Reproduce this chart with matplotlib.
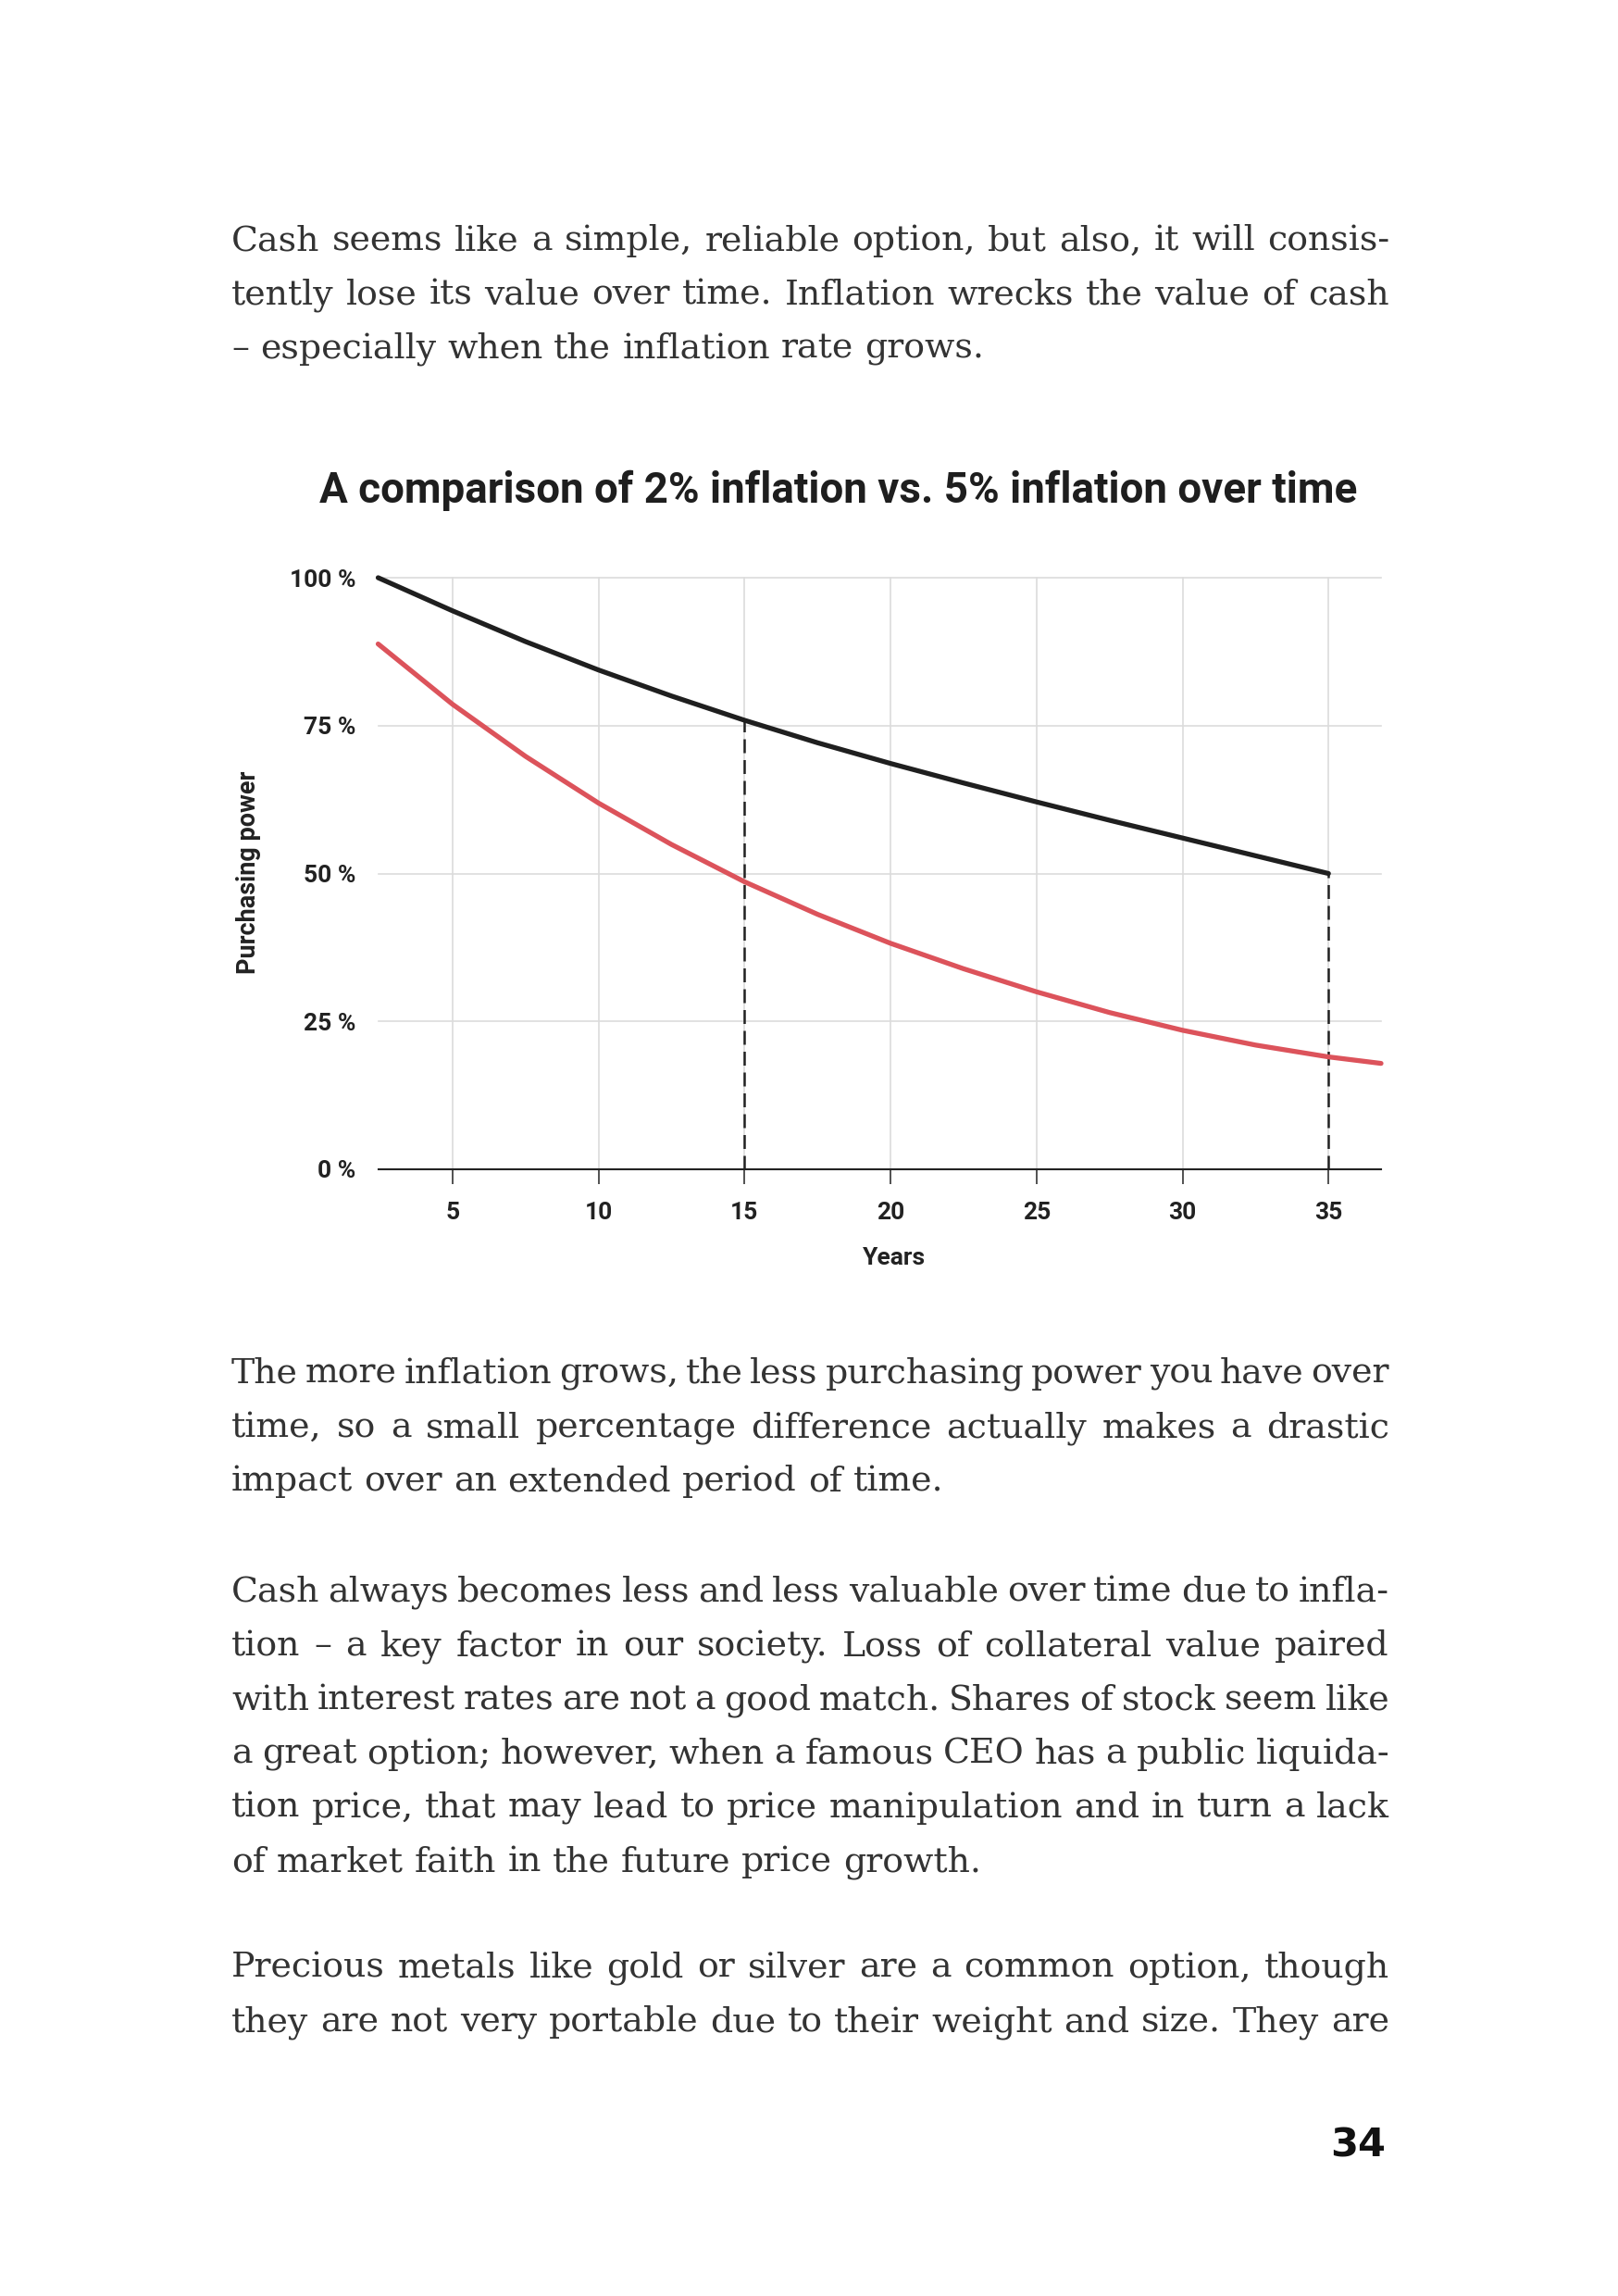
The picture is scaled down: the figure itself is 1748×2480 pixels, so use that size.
import matplotlib
matplotlib.use("Agg")
import matplotlib.pyplot as plt

# ---------------- data ----------------
years_2pct = [2.45, 5, 7.5, 10, 12.5, 15, 17.5, 20, 22.5, 25, 27.5, 30, 32.5, 35]
power_2pct = [100.0, 94.4, 89.2, 84.4, 80.0, 75.9, 72.1, 68.6, 65.3, 62.1, 59.0, 56.0, 53.0, 50.0]
years_5pct = [2.45, 5, 7.5, 10, 12.5, 15, 17.5, 20, 22.5, 25, 27.5, 30, 32.5, 35, 36.8]
power_5pct = [88.8, 78.6, 69.8, 61.9, 54.9, 48.6, 43.1, 38.2, 33.9, 30.0, 26.5, 23.5, 21.0, 19.0, 17.9]
marker_years = [15, 35]
marker_values = [75.9, 50.0]
x_ticks = [5, 10, 15, 20, 25, 30, 35]
y_ticks = [0, 25, 50, 75, 100]
y_tick_labels = ["0 %", "25 %", "50 %", "75 %", "100 %"]

title = "A comparison of 2% inflation vs. 5% inflation over time"
x_label = "Years"
y_label = "Purchasing power"
page_number = "34"

para1 = ["Cash seems like a simple, reliable option, but also, it will consis-",
         "tently lose its value over time. Inflation wrecks the value of cash",
         "– especially when the inflation rate grows."]
para2 = ["The more inflation grows, the less purchasing power you have over",
         "time, so a small percentage difference actually makes a drastic",
         "impact over an extended period of time."]
para3 = ["Cash always becomes less and less valuable over time due to infla-",
         "tion – a key factor in our society. Loss of collateral value paired",
         "with interest rates are not a good match. Shares of stock seem like",
         "a great option; however, when a famous CEO has a public liquida-",
         "tion price, that may lead to price manipulation and in turn a lack",
         "of market faith in the future price growth."]
para4 = ["Precious metals like gold or silver are a common option, though",
         "they are not very portable due to their weight and size. They are"]

# ---------------- layout ----------------
W, H = 1748, 2480
fig = plt.figure(figsize=(W / 100, H / 100), dpi=100)
fig.patch.set_facecolor("white")
r = fig.canvas.get_renderer()

def fx(x):
    return x / W

def fy(y):
    return 1 - y / H

BODY = "#333333"
DARK = "#1e1e1e"
SANS = ["Roboto", "DejaVu Sans"]
SERIF = ["DejaVu Serif"]

def width_of(s, size, **kw):
    t = fig.text(0, 0, s, fontsize=size, **kw)
    w = t.get_window_extent(r).width
    t.remove()
    return w

# body text, justified
L, R = 250, 1501
base = 28.0
space_w = width_of("a a", base, family=SERIF) - width_of("aa", base, family=SERIF)
fits = []
for para in (para1, para2, para3, para4):
    for line in (para[:-1] if para is not para4 else para):
        words = line.split(" ")
        sw = sum(width_of(w, base, family=SERIF) for w in words)
        fits.append(base * (R - L) / (sw + (len(words) - 1) * 0.62 * space_w))
body_size = min(29.5, min(fits))

def paragraph(lines, y0, justify_last=False, step=58.2):
    sp = width_of("a a", body_size, family=SERIF) - width_of("aa", body_size, family=SERIF)
    for i, line in enumerate(lines):
        y = y0 + i * step
        words = line.split(" ")
        texts = [fig.text(0, 0, w, fontsize=body_size, family=SERIF, color=BODY,
                          ha="left", va="baseline") for w in words]
        widths = [t.get_window_extent(r).width for t in texts]
        last = (i == len(lines) - 1) and not justify_last
        gap = sp if last else (R - L - sum(widths)) / (len(words) - 1)
        x = L
        for t, w in zip(texts, widths):
            t.set_position((fx(x), fy(y)))
            x += w + gap

paragraph(para1, 270.5)
paragraph(para2, 1494)
paragraph(para3, 1730)
paragraph(para4, 2136, justify_last=True)

# title (fit to measured width)
tw = width_of(title, 30, family=SANS, weight="bold")
fig.text(fx(345), fy(543), title, fontsize=30 * 1121 / tw, family=SANS,
         weight="bold", color=DARK, ha="left", va="baseline")

# page number
pw = width_of(page_number, 30, family=["DejaVu Sans"], weight="bold")
fig.text(fx(1497), fy(2329), page_number, fontsize=30 * 60 / pw,
         family=["DejaVu Sans"], weight="bold", color="#111111",
         ha="right", va="baseline")

# ---------------- chart ----------------
ax_l, ax_r, ax_t, ax_b = 408.5, 1492, 624, 1263
ax = fig.add_axes([fx(ax_l), fy(ax_b), (ax_r - ax_l) / W, (ax_b - ax_t) / H])
ax.set_facecolor("white")
ax.set_xlim(2.45, 36.8)
ax.set_ylim(0, 100)
for s in ("left", "right", "top"):
    ax.spines[s].set_visible(False)
ax.spines["bottom"].set_color("#222222")
ax.spines["bottom"].set_linewidth(1.5)
ax.spines["bottom"].set_zorder(5)

ax.set_xticks(x_ticks)
ax.set_xticklabels([str(v) for v in x_ticks])
ax.set_yticks(y_ticks)
ax.set_yticklabels(y_tick_labels)
ax.grid(True, color="#dcdcdc", linewidth=1.2)
ax.set_axisbelow(True)
for gl in ax.get_ygridlines() + ax.get_xgridlines():
    gl.set_clip_on(False)

tick_w = width_of("100 %", 18, family=SANS, weight="bold")
tick_size = 18 * 71.5 / tick_w
ax.tick_params(axis="y", length=0, pad=17.6, labelsize=tick_size, labelcolor="#222222")
ax.tick_params(axis="x", length=11.5, width=1.1, color="#222222", pad=14,
               labelsize=tick_size, labelcolor="#222222", direction="out")
for lab in ax.get_xticklabels() + ax.get_yticklabels():
    lab.set_family(SANS)
    lab.set_weight("bold")

ax.plot(years_2pct, power_2pct, color="#1f1f1f", linewidth=3.8,
        solid_capstyle="round", solid_joinstyle="round", clip_on=False, zorder=4)
ax.plot(years_5pct, power_5pct, color="#dc535b", linewidth=3.8,
        solid_capstyle="round", solid_joinstyle="round", clip_on=False, zorder=4)
ax.vlines(marker_years, 0, marker_values, colors="#222222", linewidth=1.8,
          linestyles=(0, (6, 3)), zorder=3)

ax.set_xlabel(x_label, family=SANS, weight="bold", fontsize=tick_size, color="#222222")
ax.xaxis.label.set_va("center")
ax.xaxis.set_label_coords((966 - ax_l) / (ax_r - ax_l), (ax_b - 1359) / (ax_b - ax_t))

yl_w = width_of(y_label, 18, family=SANS, weight="bold")
ax.set_ylabel(y_label, family=SANS, weight="bold", fontsize=18 * 219 / yl_w, color="#222222")
ax.yaxis.label.set_va("center")
ax.yaxis.set_label_coords((268.5 - ax_l) / (ax_r - ax_l), (ax_b - 942) / (ax_b - ax_t))

fig.savefig("out.png", dpi=100, facecolor="white")
